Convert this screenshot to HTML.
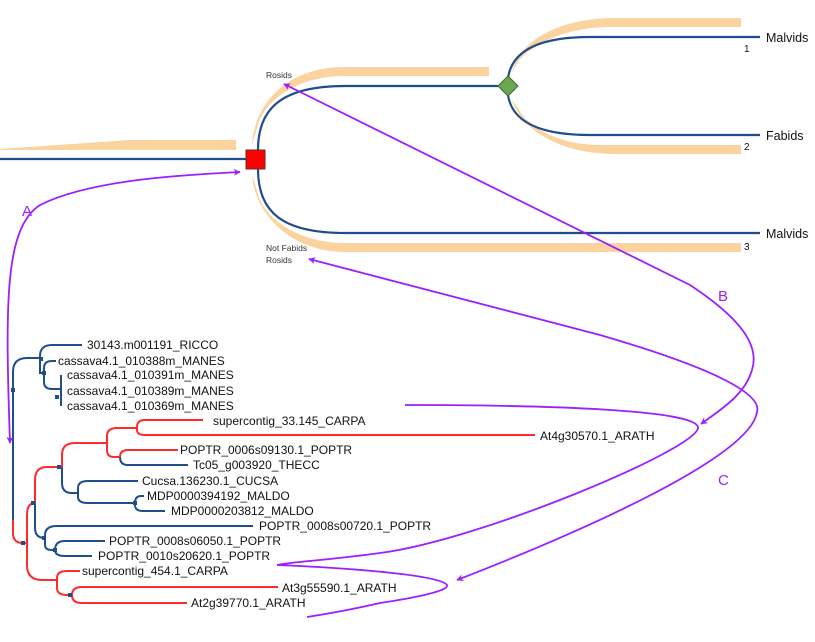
<!DOCTYPE html>
<html><head><meta charset="utf-8"><style>
html,body{margin:0;padding:0;background:#fff;}
svg{display:block;}
text{font-family:"Liberation Sans",sans-serif;}
</style></head><body>
<svg width="815" height="642" viewBox="0 0 815 642" xmlns="http://www.w3.org/2000/svg">
<defs>
<marker id="ah" viewBox="0 0 10 10" refX="9" refY="5" markerWidth="7" markerHeight="7" orient="auto-start-reverse" markerUnits="userSpaceOnUse">
<path d="M0,0 L10,5 L0,10 L3,5 Z" fill="#9b1fff"/>
</marker>
</defs>
<g fill="#fbd39e">
<path d="M0,149 L130,140 H236 V150 H0 Z"/>
<path d="M252,145 C255,100 290,67 345,67 H489 V76 H345 C300,76 266,98 258,125 Z"/>
<path d="M512,72 C520,40 560,18 615,18 H741 V27 H610 C565,27 530,45 518,62 Z"/>
<path d="M512,100 C522,130 560,154 615,154 H741 V145 H600 C560,145 528,128 518,108 Z"/>
<path d="M252,175 C255,215 292,252 345,252 H741 V243 H345 C298,243 262,218 257,190 Z"/>
</g>
<g fill="none" stroke="#1f4e8c" stroke-width="2.2">
<path d="M0,159 H246"/>
<path d="M258,150 C258,108 282,86 345,86 H498"/>
<path d="M258,169 C258,212 282,233 345,233 H760"/>
<path d="M508,78 C512,50 540,37 590,37 H760"/>
<path d="M508,95 C512,122 540,135 590,135 H760"/>
</g>
<rect x="246" y="150" width="19" height="19" fill="#ff0000" stroke="#6a2a2a" stroke-width="1"/>
<polygon points="508,76 518,86 508,96 498,86" fill="#6aa84f" stroke="#3d6b2e" stroke-width="1"/>
<g font-size="12.5" fill="#111">
<text x="766" y="42">Malvids</text>
<text x="766" y="140">Fabids</text>
<text x="766" y="238">Malvids</text>
</g>
<g font-size="10" fill="#111">
<text x="744" y="52">1</text>
<text x="744" y="150">2</text>
<text x="744" y="250">3</text>
</g>
<g font-size="8.5" fill="#333">
<text x="266" y="78">Rosids</text>
<text x="266" y="251">Not Fabids</text>
<text x="266" y="263">Rosids</text>
</g>
<g fill="none" stroke="#1f4e8c" stroke-width="2">
<path d="M13,520 V372 Q13,358 27,358 H40"/>
<path d="M40,358 V356 Q40,345 52,345 H82"/>
<path d="M40,358 V373 H44"/>
<path d="M44,373 V368 Q44,361 52,361 H56"/>
<path d="M44,373 V382 Q44,389 52,389 H61"/>
<path d="M61,375 V406"/>
<path d="M35,503 V528 Q35,538 45,538"/>
<path d="M62,467 V483 Q62,493 72,493 H78"/>
<path d="M120,457 Q120,465 128,465 H188"/>
<path d="M78,493 V488 Q78,481 88,481 H138"/>
<path d="M78,493 V497 Q78,503 88,503 H135"/>
<path d="M135,503 Q135,496 141,496 H144"/>
<path d="M135,503 V505 Q135,511 143,511 H165"/>
<path d="M45,538 V535 Q45,526 57,526 H253"/>
<path d="M45,538 V545 Q45,550 52,550 H55"/>
<path d="M55,550 Q55,541 65,541 H105"/>
<path d="M55,550 Q55,556 65,556 H92"/>
</g>
<g fill="none" stroke="#ff2a2a" stroke-width="2">
<path d="M13,520 V533 Q13,543 23,543 H27"/>
<path d="M27,543 V515 Q27,503 35,503"/>
<path d="M27,543 V565 Q27,580 42,580 H57"/>
<path d="M35,503 V480 Q35,467 47,467 H62"/>
<path d="M62,467 V455 Q62,443 75,443 H107"/>
<path d="M107,443 V436 Q107,428 117,428 H137"/>
<path d="M137,428 V427 Q137,420 145,420 H203"/>
<path d="M137,428 V430 Q137,435 145,435 H535"/>
<path d="M107,443 V450 Q107,457 114,457 H120"/>
<path d="M120,457 Q120,450 128,450 H178"/>
<path d="M57,580 V578 Q57,571 67,571 H80"/>
<path d="M57,580 V588 Q57,595 67,595 H72"/>
<path d="M72,595 Q72,587 82,587 H278"/>
<path d="M72,595 Q72,603 82,603 H187"/>
</g>
<g fill="#1f4e8c">
<rect x="39" y="357" width="4" height="4"/><rect x="42" y="371" width="4" height="4"/><rect x="55" y="395" width="4" height="4"/>
<rect x="11" y="388" width="4" height="4"/><rect x="21" y="541" width="4" height="4"/><rect x="31" y="501" width="4" height="4"/>
<rect x="57" y="465" width="4" height="4"/><rect x="133" y="501" width="4" height="4"/><rect x="42" y="536" width="4" height="4"/>
<rect x="53" y="548" width="4" height="4"/><rect x="68" y="593" width="4" height="4"/>
</g>
<g font-size="12" fill="#111">
<text x="87" y="349">30143.m001191_RICCO</text>
<text x="58" y="365">cassava4.1_010388m_MANES</text>
<text x="67" y="379">cassava4.1_010391m_MANES</text>
<text x="67" y="395">cassava4.1_010389m_MANES</text>
<text x="67" y="410">cassava4.1_010369m_MANES</text>
<text x="213" y="425">supercontig_33.145_CARPA</text>
<text x="540" y="440">At4g30570.1_ARATH</text>
<text x="180" y="454">POPTR_0006s09130.1_POPTR</text>
<text x="193" y="469">Tc05_g003920_THECC</text>
<text x="142" y="485">Cucsa.136230.1_CUCSA</text>
<text x="147" y="500">MDP0000394192_MALDO</text>
<text x="171" y="515">MDP0000203812_MALDO</text>
<text x="259" y="530">POPTR_0008s00720.1_POPTR</text>
<text x="109" y="545">POPTR_0008s06050.1_POPTR</text>
<text x="98" y="560">POPTR_0010s20620.1_POPTR</text>
<text x="82" y="575">supercontig_454.1_CARPA</text>
<text x="282" y="592">At3g55590.1_ARATH</text>
<text x="191" y="607">At2g39770.1_ARATH</text>
</g>
<g fill="none" stroke="#9b1fff" stroke-width="1.8">
<path d="M10,443 C5,300 5,228 40,205 C90,180 180,175 240,172" marker-start="url(#ah)" marker-end="url(#ah)"/>
<path d="M284,84 L690,285 C740,318 760,345 752,370 C745,395 720,410 701,424" marker-start="url(#ah)" marker-end="url(#ah)"/>
<path d="M309,259 L600,335 C720,370 762,395 757,412 C750,460 560,540 457,580" marker-start="url(#ah)" marker-end="url(#ah)"/>
<path d="M405,405 C550,405 700,410 698,428 C695,450 480,540 380,553 C330,560 290,562 277,565"/>
<path d="M277,565 C350,568 440,575 447,585 C450,592 400,600 380,603 C350,610 320,615 307,617"/>
</g>
<g font-size="15" fill="#9b1fff">
<text x="22" y="216">A</text>
<text x="718" y="301">B</text>
<text x="718" y="485">C</text>
</g>
</svg>
</body></html>
